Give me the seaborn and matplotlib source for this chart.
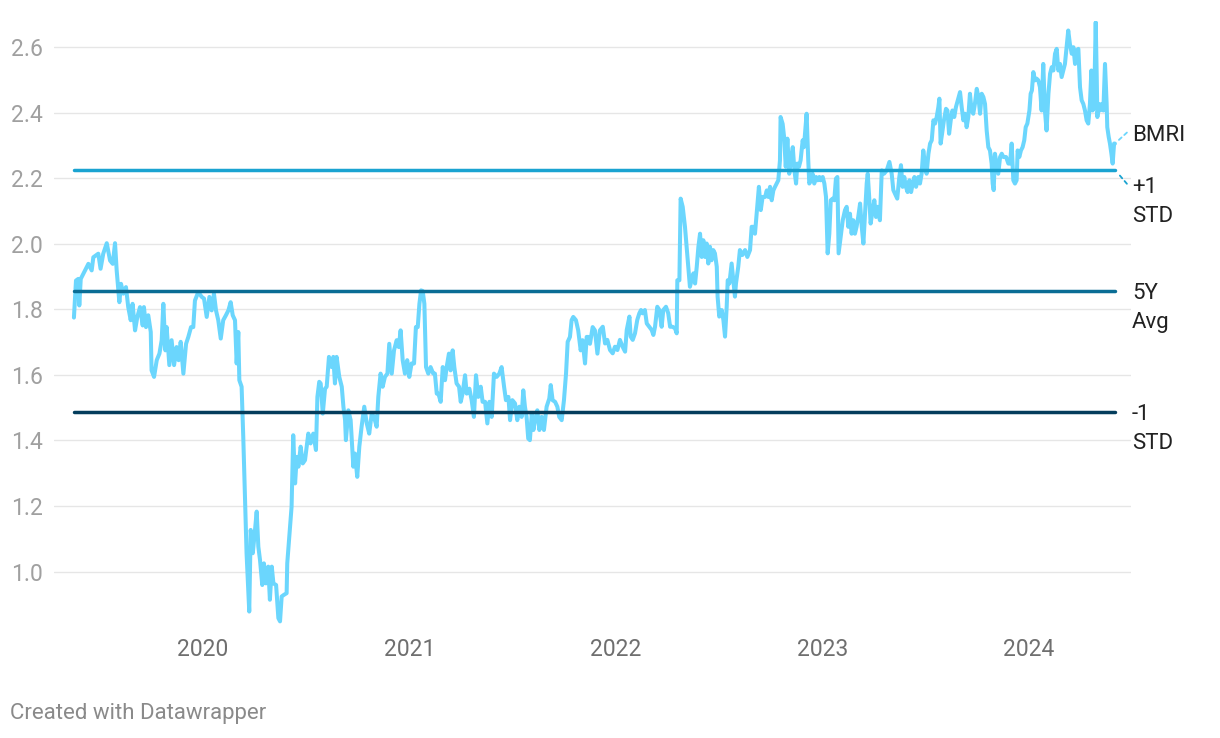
import matplotlib
matplotlib.use('Agg')
import matplotlib.pyplot as plt
import pandas as pd
import seaborn as sns

# BMRI price-to-book (decimal year, value)
years = [
    2019.375, 2019.385, 2019.396, 2019.401, 2019.408, 2019.421, 2019.445, 2019.461, 2019.469, 2019.493,
    2019.504, 2019.517, 2019.534, 2019.550, 2019.563, 2019.574, 2019.582, 2019.595, 2019.603, 2019.614,
    2019.627, 2019.638, 2019.650, 2019.659, 2019.671, 2019.682, 2019.695, 2019.708, 2019.714, 2019.724,
    2019.735, 2019.747, 2019.751, 2019.763, 2019.776, 2019.789, 2019.800, 2019.808, 2019.818, 2019.824,
    2019.837, 2019.848, 2019.860, 2019.872, 2019.882, 2019.892, 2019.905, 2019.918, 2019.929, 2019.942,
    2019.953, 2019.961, 2019.977, 2019.994, 2020.005, 2020.018, 2020.031, 2020.042, 2020.053, 2020.063,
    2020.074, 2020.086, 2020.098, 2020.111, 2020.123, 2020.134, 2020.144, 2020.155, 2020.163, 2020.171,
    2020.176, 2020.187, 2020.195, 2020.203, 2020.211, 2020.224, 2020.231, 2020.241, 2020.249, 2020.260,
    2020.268, 2020.276, 2020.287, 2020.295, 2020.305, 2020.316, 2020.324, 2020.333, 2020.341, 2020.354,
    2020.365, 2020.373, 2020.381, 2020.392, 2020.405, 2020.408, 2020.418, 2020.429, 2020.437, 2020.446,
    2020.454, 2020.462, 2020.473, 2020.483, 2020.494, 2020.510, 2020.521, 2020.534, 2020.547, 2020.554,
    2020.563, 2020.570, 2020.580, 2020.591, 2020.599, 2020.610, 2020.623, 2020.631, 2020.639, 2020.647,
    2020.660, 2020.672, 2020.680, 2020.688, 2020.692, 2020.704, 2020.715, 2020.728, 2020.736, 2020.747,
    2020.757, 2020.768, 2020.781, 2020.793, 2020.805, 2020.817, 2020.828, 2020.841, 2020.849, 2020.860,
    2020.870, 2020.881, 2020.893, 2020.902, 2020.914, 2020.925, 2020.938, 2020.948, 2020.957, 2020.967,
    2020.978, 2020.989, 2020.999, 2021.010, 2021.022, 2021.031, 2021.040, 2021.048, 2021.056, 2021.064,
    2021.072, 2021.080, 2021.091, 2021.102, 2021.115, 2021.123, 2021.132, 2021.140, 2021.151, 2021.161,
    2021.172, 2021.180, 2021.191, 2021.199, 2021.209, 2021.217, 2021.228, 2021.240, 2021.248, 2021.257,
    2021.269, 2021.277, 2021.290, 2021.301, 2021.312, 2021.322, 2021.333, 2021.345, 2021.354, 2021.366,
    2021.377, 2021.387, 2021.398, 2021.409, 2021.422, 2021.435, 2021.446, 2021.458, 2021.467, 2021.479,
    2021.487, 2021.498, 2021.511, 2021.522, 2021.532, 2021.543, 2021.551, 2021.559, 2021.567, 2021.575,
    2021.583, 2021.592, 2021.600, 2021.608, 2021.619, 2021.629, 2021.640, 2021.651, 2021.664, 2021.677,
    2021.684, 2021.693, 2021.705, 2021.716, 2021.725, 2021.737, 2021.748, 2021.758, 2021.766, 2021.777,
    2021.785, 2021.793, 2021.806, 2021.817, 2021.829, 2021.838, 2021.850, 2021.858, 2021.866, 2021.874,
    2021.887, 2021.898, 2021.910, 2021.922, 2021.936, 2021.947, 2021.958, 2021.971, 2021.984, 2021.995,
    2022.007, 2022.019, 2022.032, 2022.044, 2022.052, 2022.065, 2022.071, 2022.081, 2022.092, 2022.103,
    2022.113, 2022.121, 2022.129, 2022.140, 2022.149, 2022.161, 2022.173, 2022.181, 2022.189, 2022.200,
    2022.210, 2022.221, 2022.229, 2022.242, 2022.253, 2022.262, 2022.274, 2022.286, 2022.294, 2022.297,
    2022.307, 2022.313, 2022.323, 2022.334, 2022.342, 2022.350, 2022.358, 2022.366, 2022.375, 2022.383,
    2022.391, 2022.399, 2022.407, 2022.415, 2022.423, 2022.431, 2022.439, 2022.447, 2022.455, 2022.463,
    2022.471, 2022.479, 2022.488, 2022.492, 2022.500, 2022.512, 2022.520, 2022.528, 2022.536, 2022.541,
    2022.549, 2022.560, 2022.568, 2022.576, 2022.581, 2022.592, 2022.600, 2022.612, 2022.625, 2022.636,
    2022.649, 2022.657, 2022.665, 2022.673, 2022.681, 2022.692, 2022.701, 2022.710, 2022.722, 2022.730,
    2022.738, 2022.746, 2022.754, 2022.762, 2022.770, 2022.778, 2022.786, 2022.794, 2022.797, 2022.807,
    2022.814, 2022.822, 2022.830, 2022.839, 2022.847, 2022.856, 2022.864, 2022.872, 2022.878, 2022.886,
    2022.894, 2022.904, 2022.910, 2022.918, 2022.923, 2022.931, 2022.936, 2022.944, 2022.952, 2022.960,
    2022.969, 2022.977, 2022.985, 2022.991, 2023.001, 2023.009, 2023.017, 2023.025, 2023.033, 2023.040,
    2023.049, 2023.057, 2023.065, 2023.072, 2023.078, 2023.088, 2023.098, 2023.109, 2023.117, 2023.125,
    2023.133, 2023.141, 2023.149, 2023.157, 2023.165, 2023.173, 2023.182, 2023.190, 2023.198, 2023.206,
    2023.214, 2023.219, 2023.227, 2023.233, 2023.243, 2023.251, 2023.259, 2023.267, 2023.278, 2023.287,
    2023.298, 2023.311, 2023.324, 2023.335, 2023.343, 2023.351, 2023.362, 2023.372, 2023.380, 2023.388,
    2023.396, 2023.404, 2023.412, 2023.421, 2023.429, 2023.437, 2023.445, 2023.453, 2023.464, 2023.472,
    2023.480, 2023.488, 2023.496, 2023.504, 2023.513, 2023.521, 2023.529, 2023.537, 2023.545, 2023.553,
    2023.561, 2023.566, 2023.572, 2023.579, 2023.588, 2023.598, 2023.605, 2023.613, 2023.621, 2023.629,
    2023.638, 2023.646, 2023.655, 2023.666, 2023.674, 2023.682, 2023.690, 2023.698, 2023.706, 2023.714,
    2023.722, 2023.730, 2023.738, 2023.747, 2023.755, 2023.763, 2023.771, 2023.779, 2023.787, 2023.795,
    2023.803, 2023.811, 2023.819, 2023.824, 2023.829, 2023.835, 2023.843, 2023.851, 2023.860, 2023.868,
    2023.876, 2023.889, 2023.900, 2023.908, 2023.916, 2023.924, 2023.932, 2023.940, 2023.945, 2023.953,
    2023.961, 2023.969, 2023.977, 2023.984, 2023.992, 2024.002, 2024.008, 2024.014, 2024.021, 2024.029,
    2024.037, 2024.045, 2024.053, 2024.061, 2024.069, 2024.077, 2024.085, 2024.094, 2024.102, 2024.110,
    2024.118, 2024.126, 2024.134, 2024.142, 2024.150, 2024.158, 2024.166, 2024.174, 2024.182, 2024.190,
    2024.198, 2024.207, 2024.215, 2024.223, 2024.231, 2024.239, 2024.247, 2024.255, 2024.263, 2024.271,
    2024.279, 2024.287, 2024.295, 2024.302, 2024.308, 2024.315, 2024.323, 2024.328, 2024.331, 2024.337,
    2024.344, 2024.352, 2024.360, 2024.368, 2024.376, 2024.379, 2024.386, 2024.392, 2024.399, 2024.405,
    2024.412, 2024.416,
]
pb = [
    1.775, 1.888, 1.893, 1.812, 1.893, 1.909, 1.939, 1.919, 1.959, 1.970,
    1.924, 1.970, 2.002, 1.949, 1.939, 2.002, 1.919, 1.822, 1.878, 1.848,
    1.868, 1.807, 1.767, 1.817, 1.736, 1.777, 1.807, 1.751, 1.807, 1.746,
    1.782, 1.731, 1.614, 1.594, 1.645, 1.665, 1.706, 1.817, 1.675, 1.746,
    1.630, 1.706, 1.630, 1.685, 1.645, 1.701, 1.604, 1.695, 1.716, 1.746,
    1.746, 1.827, 1.853, 1.838, 1.833, 1.777, 1.838, 1.797, 1.848, 1.797,
    1.767, 1.711, 1.767, 1.782, 1.797, 1.822, 1.782, 1.767, 1.635, 1.731,
    1.584, 1.564, 1.411, 1.228, 1.056, 0.878, 1.127, 1.056, 1.107, 1.183,
    1.076, 1.036, 0.959, 1.025, 0.964, 1.015, 0.914, 1.015, 0.964, 0.959,
    0.858, 0.848, 0.924, 0.929, 0.934, 1.025, 1.107, 1.198, 1.416, 1.269,
    1.350, 1.320, 1.381, 1.330, 1.340, 1.421, 1.391, 1.421, 1.371, 1.533,
    1.579, 1.574, 1.482, 1.558, 1.564, 1.655, 1.624, 1.655, 1.574, 1.655,
    1.594, 1.564, 1.503, 1.462, 1.401, 1.492, 1.462, 1.320, 1.360, 1.289,
    1.381, 1.442, 1.503, 1.452, 1.421, 1.482, 1.472, 1.442, 1.533, 1.604,
    1.564, 1.594, 1.604, 1.695, 1.604, 1.675, 1.706, 1.685, 1.736, 1.645,
    1.604, 1.645, 1.594, 1.635, 1.635, 1.746, 1.746, 1.817, 1.858, 1.856,
    1.817, 1.624, 1.604, 1.624, 1.604, 1.604, 1.543, 1.543, 1.518, 1.624,
    1.584, 1.624, 1.665, 1.614, 1.675, 1.624, 1.574, 1.564, 1.518, 1.543,
    1.599, 1.543, 1.558, 1.523, 1.472, 1.599, 1.533, 1.564, 1.518, 1.518,
    1.452, 1.518, 1.472, 1.604, 1.594, 1.604, 1.624, 1.564, 1.523, 1.533,
    1.462, 1.523, 1.513, 1.462, 1.503, 1.472, 1.553, 1.503, 1.472, 1.406,
    1.401, 1.482, 1.432, 1.462, 1.492, 1.432, 1.472, 1.432, 1.503, 1.528,
    1.569, 1.523, 1.518, 1.503, 1.472, 1.462, 1.523, 1.604, 1.701, 1.716,
    1.767, 1.777, 1.767, 1.736, 1.675, 1.706, 1.635, 1.716, 1.716, 1.695,
    1.746, 1.736, 1.665, 1.736, 1.747, 1.696, 1.707, 1.676, 1.666, 1.686,
    1.676, 1.707, 1.686, 1.671, 1.737, 1.778, 1.717, 1.707, 1.727, 1.768,
    1.788, 1.798, 1.788, 1.798, 1.757, 1.747, 1.737, 1.722, 1.747, 1.808,
    1.798, 1.747, 1.798, 1.808, 1.788, 1.747, 1.747, 1.742, 1.727, 1.889,
    1.889, 2.138, 2.113, 2.052, 1.991, 1.930, 1.869, 1.889, 1.910, 1.879,
    1.930, 1.991, 2.031, 1.960, 2.011, 1.960, 2.001, 1.940, 1.991, 1.950,
    1.981, 1.971, 1.930, 1.839, 1.778, 1.798, 1.768, 1.717, 1.808, 1.889,
    1.879, 1.940, 1.889, 1.839, 1.879, 1.930, 1.981, 1.966, 1.981, 1.960,
    1.981, 2.052, 2.052, 2.031, 2.092, 2.174, 2.103, 2.143, 2.143, 2.163,
    2.143, 2.174, 2.133, 2.163, 2.174, 2.184, 2.194, 2.255, 2.387, 2.366,
    2.326, 2.235, 2.321, 2.214, 2.255, 2.295, 2.224, 2.184, 2.245, 2.235,
    2.255, 2.316, 2.295, 2.356, 2.397, 2.255, 2.184, 2.194, 2.214, 2.184,
    2.204, 2.194, 2.204, 2.194, 2.204, 2.184, 2.143, 1.971, 2.031, 2.133,
    2.138, 2.133, 2.199, 2.204, 1.971, 2.021, 2.072, 2.103, 2.113, 2.052,
    2.092, 2.031, 2.072, 2.031, 2.052, 2.082, 2.123, 2.052, 2.001, 2.092,
    2.184, 2.214, 2.133, 2.062, 2.103, 2.133, 2.082, 2.113, 2.072, 2.224,
    2.214, 2.224, 2.250, 2.214, 2.164, 2.153, 2.138, 2.204, 2.240, 2.174,
    2.204, 2.174, 2.158, 2.194, 2.158, 2.184, 2.204, 2.174, 2.204, 2.184,
    2.214, 2.285, 2.245, 2.214, 2.275, 2.306, 2.316, 2.377, 2.367, 2.387,
    2.417, 2.443, 2.306, 2.336, 2.377, 2.412, 2.407, 2.336, 2.377, 2.407,
    2.387, 2.417, 2.438, 2.463, 2.417, 2.377, 2.397, 2.356, 2.387, 2.458,
    2.407, 2.397, 2.427, 2.473, 2.448, 2.397, 2.458, 2.448, 2.427, 2.346,
    2.295, 2.285, 2.245, 2.184, 2.164, 2.275, 2.245, 2.214, 2.265, 2.275,
    2.265, 2.265, 2.245, 2.245, 2.306, 2.194, 2.184, 2.194, 2.285, 2.265,
    2.285, 2.295, 2.316, 2.356, 2.367, 2.407, 2.458, 2.468, 2.524, 2.499,
    2.504, 2.499, 2.478, 2.407, 2.549, 2.407, 2.346, 2.458, 2.519, 2.539,
    2.529, 2.580, 2.595, 2.529, 2.549, 2.509, 2.529, 2.549, 2.600, 2.651,
    2.610, 2.580, 2.600, 2.549, 2.590, 2.595, 2.478, 2.438, 2.427, 2.407,
    2.377, 2.367, 2.427, 2.529, 2.407, 2.417, 2.676, 2.509, 2.387, 2.427,
    2.407, 2.427, 2.407, 2.549, 2.427, 2.356, 2.326, 2.306, 2.275, 2.245,
    2.306, 2.306,
]

series_name = 'BMRI'
series_color = '#6bd6fd'
ref_values = [2.226, 1.857, 1.488]
ref_colors = ['#1aa3d1', '#0a6d95', '#043d5c']
# label lines, and offset (pixels) of the first line from the reference value
ref_labels = [['+1', 'STD'], ['5Y', 'Avg'], ['-1', 'STD']]
ref_label_dy = [-18, -3, -3]
x_ticks = [2020, 2021, 2022, 2023, 2024]
y_ticks = [1.0, 1.2, 1.4, 1.6, 1.8, 2.0, 2.2, 2.4, 2.6]

sns.set_theme(style='white')
plt.rcParams['font.family'] = ['Roboto', 'DejaVu Sans']

fig = plt.figure(figsize=(12.2, 7.38), dpi=100)
ax = fig.add_axes([54 / 1220, 1 - 624 / 738, (1131 - 54) / 1220, (624 - 21) / 738])

df = pd.DataFrame({'year': years, 'pb': pb})
sns.lineplot(data=df, x='year', y='pb', ax=ax, color=series_color, lw=2.9,
             estimator=None, sort=False, zorder=2,
             solid_joinstyle='round', solid_capstyle='round')

for v, c in zip(ref_values, ref_colors):
    ax.plot([years[0], years[-1]], [v, v], color=c, lw=2.5,
            solid_capstyle='round', zorder=3)

ax.set_xlim(2019.2785, 2024.4939)
ax.set_ylim(0.84, 2.68)
ax.set_xticks(x_ticks)
ax.set_xticklabels([str(t) for t in x_ticks])
ax.set_yticks(y_ticks)
ax.set_yticklabels([f'{t:.1f}' for t in y_ticks])
ax.tick_params(axis='x', length=0, pad=10, labelsize=16.5, labelcolor='#6f6f6f')
ax.tick_params(axis='y', length=0, pad=8, labelsize=16.5, labelcolor='#a0a0a0')
ax.grid(axis='y', color='#e6e6e6', lw=1.0)
ax.grid(axis='x', visible=False)
ax.set_axisbelow(True)
for s in ax.spines.values():
    s.set_visible(False)
ax.set_xlabel('')
ax.set_ylabel('')


def connector(xy, dx, dy, color):
    # short dotted leader from a line end towards its label
    ax.annotate('', xy=xy, xytext=(dx, dy), textcoords='offset pixels',
                arrowprops=dict(arrowstyle='-', color=color, lw=1.3,
                                linestyle=(0, (2, 2)), shrinkA=0, shrinkB=3))


# direct labels at the right end
ax.annotate(series_name, xy=(years[-1], pb[-1]), xytext=(17, 8),
            textcoords='offset pixels', ha='left', va='center',
            fontsize=16, color='#222222')
connector((years[-1], pb[-1]), 12, 11, series_color)

for v, c, lines, dy in zip(ref_values, ref_colors, ref_labels, ref_label_dy):
    if dy < -10:
        connector((years[-1], v), 12, -14, c)
    ax.annotate(lines[0], xy=(years[-1], v), xytext=(17, dy),
                textcoords='offset pixels', ha='left', va='center',
                fontsize=16, color='#222222')
    ax.annotate(lines[1], xy=(years[-1], v), xytext=(17, dy - 29),
                textcoords='offset pixels', ha='left', va='center',
                fontsize=16, color='#222222')

fig.text(10 / 1220, 1 - 714 / 738, 'Created with Datawrapper', fontsize=16,
         color='#8a8a8a', ha='left', va='center')

fig.savefig('out.png', dpi=100)
